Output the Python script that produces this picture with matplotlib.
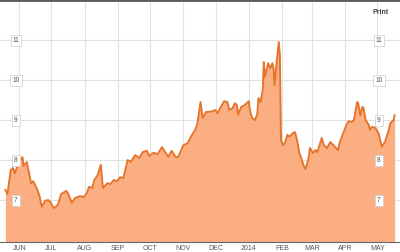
import matplotlib
matplotlib.use("Agg")
import matplotlib.pyplot as plt
import matplotlib.transforms as mtransforms
import numpy as np

plt.rcParams["font.family"] = ["Liberation Sans", "DejaVu Sans"]

# ── Data ──────────────────────────────────────────────────────────────────────
DATES = [
    "2013-05-19", "2013-05-21", "2013-05-24", "2013-05-26", "2013-05-28", "2013-05-31",
    "2013-06-04", "2013-06-05", "2013-06-08", "2013-06-12", "2013-06-14", "2013-06-18",
    "2013-06-20", "2013-06-22", "2013-06-25", "2013-06-28", "2013-06-30", "2013-07-03",
    "2013-07-05", "2013-07-07", "2013-07-10", "2013-07-15", "2013-07-17", "2013-07-20",
    "2013-07-23", "2013-07-28", "2013-07-31", "2013-08-03", "2013-08-05", "2013-08-08",
    "2013-08-10", "2013-08-13", "2013-08-16", "2013-08-18", "2013-08-22", "2013-08-25",
    "2013-08-28", "2013-08-31", "2013-09-03", "2013-09-06", "2013-09-10", "2013-09-13",
    "2013-09-17", "2013-09-21", "2013-09-24", "2013-09-28", "2013-09-30", "2013-10-04",
    "2013-10-08", "2013-10-12", "2013-10-15", "2013-10-18", "2013-10-21", "2013-10-25",
    "2013-10-27", "2013-11-01", "2013-11-05", "2013-11-08", "2013-11-10", "2013-11-12",
    "2013-11-14", "2013-11-17", "2013-11-19", "2013-11-22", "2013-11-24", "2013-11-28",
    "2013-12-01", "2013-12-03", "2013-12-06", "2013-12-09", "2013-12-12", "2013-12-14",
    "2013-12-17", "2013-12-19", "2013-12-21", "2013-12-22", "2013-12-25", "2013-12-28",
    "2014-01-01", "2014-01-02", "2014-01-04", "2014-01-07", "2014-01-09", "2014-01-10",
    "2014-01-12", "2014-01-14", "2014-01-15", "2014-01-16", "2014-01-19", "2014-01-21",
    "2014-01-23", "2014-01-24", "2014-01-25", "2014-01-27", "2014-01-29", "2014-01-30",
    "2014-01-31", "2014-02-02", "2014-02-04", "2014-02-06", "2014-02-08", "2014-02-11",
    "2014-02-13", "2014-02-15", "2014-02-17", "2014-02-21", "2014-02-23", "2014-02-26",
    "2014-02-27", "2014-03-02", "2014-03-04", "2014-03-06", "2014-03-10", "2014-03-12",
    "2014-03-15", "2014-03-18", "2014-03-21", "2014-03-25", "2014-03-27", "2014-03-30",
    "2014-04-02", "2014-04-04", "2014-04-07", "2014-04-09", "2014-04-12", "2014-04-13",
    "2014-04-15", "2014-04-17", "2014-04-18", "2014-04-20", "2014-04-23", "2014-04-24",
    "2014-04-26", "2014-04-29", "2014-05-02", "2014-05-04", "2014-05-05", "2014-05-08",
    "2014-05-11", "2014-05-13", "2014-05-16", "2014-05-17",
]
VALUES = [
    7.25, 7.15, 7.75, 7.80, 7.67, 7.92,
    8.07, 7.85, 7.95, 7.42, 7.47, 7.25,
    7.08, 6.83, 6.98, 7.00, 6.95, 6.80,
    6.83, 6.88, 7.15, 7.23, 7.13, 6.93,
    7.05, 7.10, 7.07, 7.18, 7.33, 7.30,
    7.50, 7.62, 7.88, 7.30, 7.42, 7.40,
    7.50, 7.47, 7.57, 7.55, 8.00, 7.95,
    8.12, 8.05, 8.20, 8.23, 8.10, 8.18,
    8.15, 8.32, 8.20, 8.08, 8.23, 8.07,
    8.07, 8.37, 8.42, 8.58, 8.67, 8.75,
    8.90, 9.45, 9.05, 9.20, 9.20, 9.22,
    9.25, 9.17, 9.33, 9.47, 9.45, 9.25,
    9.30, 9.42, 9.37, 9.13, 9.33, 9.37,
    9.47, 9.25, 9.05, 9.00, 9.17, 9.55,
    9.45, 9.75, 10.45, 10.08, 10.42, 10.30,
    10.42, 10.30, 9.87, 10.45, 10.95, 10.62,
    8.50, 8.37, 8.45, 8.63, 8.58, 8.67,
    8.70, 8.50, 8.20, 7.87, 7.77, 8.08,
    8.30, 8.17, 8.25, 8.20, 8.55, 8.37,
    8.30, 8.45, 8.37, 8.25, 8.45, 8.67,
    8.87, 8.97, 8.95, 9.00, 9.45, 9.42,
    9.12, 9.33, 9.30, 9.00, 8.87, 8.75,
    8.83, 8.80, 8.67, 8.45, 8.33, 8.45,
    8.70, 8.92, 9.00, 9.12,
]
MONTH_TICKS = ["2013-06-01", "2013-07-01", "2013-08-01", "2013-09-01", "2013-10-01",
               "2013-11-01", "2013-12-01", "2014-01-01", "2014-02-01", "2014-03-01",
               "2014-04-01", "2014-05-01"]
MONTH_LABELS = ["JUN", "JUL", "AUG", "SEP", "OCT", "NOV", "DEC", "2014",
                "FEB", "MAR", "APR", "MAY"]
Y_TICKS = [7, 8, 9, 10, 11]

FILL = "#fba878"
LINE = "#e5732a"
GRID = "#e2e2e2"
TEXT = "#555555"

dates = np.array(DATES, dtype="datetime64[D]")
values = np.array(VALUES)

fig = plt.figure(figsize=(4, 2.52), dpi=100)
ax = fig.add_axes([0, 10 / 252, 1, 242 / 252])

ax.fill_between(dates, values, 5.0, color=FILL, lw=0, zorder=2, alpha=0.93)
ax.plot(dates, values, color=LINE, lw=1.35, zorder=3, solid_joinstyle="round")

ax.set_xlim(np.datetime64("2013-05-14"), np.datetime64("2014-05-22"))
ax.set_ylim(5.95, 12)

ax.set_xticks(np.array(MONTH_TICKS, dtype="datetime64[D]"))
ax.set_xticklabels(MONTH_LABELS, fontsize=5, color=TEXT)
ax.tick_params(axis="x", length=0, pad=2.5)
ax.set_yticks(Y_TICKS)
ax.set_yticklabels([])
ax.tick_params(axis="y", length=0)
ax.grid(True, color=GRID, lw=0.8, zorder=1)
ax.set_axisbelow(True)

for side in ["left", "right"]:
    ax.spines[side].set_visible(False)
ax.spines["top"].set_color("#5a5a5a")
ax.spines["top"].set_linewidth(2.0)
ax.spines["bottom"].set_color("#666666")
ax.spines["bottom"].set_linewidth(0.8)

# value labels in small boxes on both sides, inside the plot
trans = mtransforms.blended_transform_factory(ax.transAxes, ax.transData)
box = dict(boxstyle="square,pad=0.3", fc="white", ec="#cccccc", lw=0.5)
for v in Y_TICKS:
    for xpos in (16 / 400, 379 / 400):
        ax.text(xpos, v, str(v), transform=trans, ha="center", va="center",
                fontsize=4.8, color=TEXT, bbox=box, zorder=5)

fig.text(381 / 400, 1 - 13 / 252, "Print", ha="center", va="center",
         fontsize=5, color="#444444", fontweight="bold")

fig.savefig("out.png", dpi=100)
